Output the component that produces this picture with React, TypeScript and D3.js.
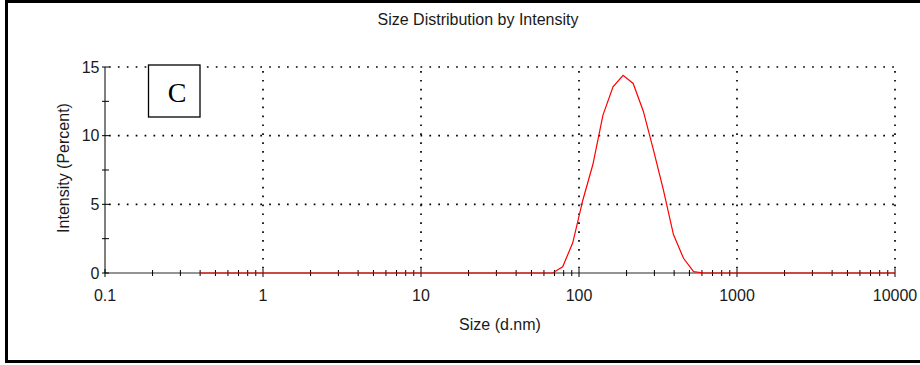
import React from "react";
import * as d3 from "d3";

// Size classes (d.nm) of the distribution
const sizeBins = [
  0.4, 0.4632, 0.5365, 0.6213, 0.7195, 0.8332, 0.9649, 1.117, 1.294, 1.499,
  1.736, 2.01, 2.328, 2.696, 3.122, 3.615, 4.187, 4.849, 5.615, 6.503,
  7.531, 8.721, 10.1, 11.7, 13.54, 15.69, 18.17, 21.04, 24.36, 28.21,
  32.67, 37.84, 43.82, 50.75, 58.77, 68.06, 78.82, 91.28, 105.7, 122.4,
  141.8, 164.2, 190.1, 220.2, 255.0, 295.3, 342.0, 396.1, 458.7, 531.2,
  615.1, 712.4, 825.0, 955.4, 1106, 1281, 1484, 1718, 1990, 2305,
  2669, 3091, 3580, 4145, 4801, 5560, 6439, 7456, 8635, 10000,
];

// Intensity (percent) per size class
const intensity = [
  0, 0, 0, 0, 0, 0, 0, 0, 0, 0,
  0, 0, 0, 0, 0, 0, 0, 0, 0, 0,
  0, 0, 0, 0, 0, 0, 0, 0, 0, 0,
  0, 0, 0, 0, 0, 0, 0.45, 2.2, 5.3, 7.9,
  11.5, 13.55, 14.4, 13.8, 11.8, 9.0, 6.05, 2.8, 1.07, 0.1,
  0, 0, 0, 0, 0, 0, 0, 0, 0, 0,
  0, 0, 0, 0, 0, 0, 0, 0, 0, 0,
];

const xMajorTicks = [0.1, 1, 10, 100, 1000, 10000];
const xTickLabels = ["0.1", "1", "10", "100", "1000", "10000"];
const yMajorTicks = [0, 5, 10, 15];
const yMinorTicks = [2.5, 7.5, 12.5];
const yGridValues = [5, 10, 15];
const xGridValues = [1, 10, 100, 1000, 10000];

const titleText = "Size Distribution by Intensity";
const xTitle = "Size (d.nm)";
const yTitle = "Intensity (Percent)";
const panelLabel = "C";

const FONT = "'Liberation Sans', Arial, sans-serif";
const TEXT = "#1a1a1a";

export default function App() {
  const left = 105;
  const right = 895;
  const top = 67;
  const bottom = 273;

  const x = d3.scaleLog().domain([0.1, 10000]).range([left, right]);
  const y = d3.scaleLinear().domain([0, 15]).range([bottom, top]);

  const xMinor: number[] = [];
  for (let d = -1; d < 4; d++) {
    for (let k = 2; k <= 9; k++) xMinor.push(k * Math.pow(10, d));
  }

  const points = sizeBins.map((s, i) => [x(s), y(intensity[i])] as [number, number]);
  const path = d3.line()(points) || "";

  const dot = { stroke: "#000", strokeWidth: 1.7, strokeDasharray: "1.7 7.2" };

  return (
    <svg
      width={920}
      height={365}
      style={{ position: "absolute", left: 0, top: 0, display: "block", background: "#fff" }}
    >
      <rect x={0} y={0} width={920} height={365} fill="#fff" />
      {/* outer frame */}
      <rect x={6.5} y={1.5} width={920} height={360} fill="none" stroke="#000" strokeWidth={3} />

      <text x={478} y={25} textAnchor="middle" fontFamily={FONT} fontSize={16} fill={TEXT}>
        {titleText}
      </text>

      {/* dotted grid */}
      {yGridValues.map((v) => (
        <line key={"gy" + v} x1={left + 4} x2={right} y1={y(v)} y2={y(v)} {...dot} />
      ))}
      {xGridValues.map((v) => (
        <line key={"gx" + v} x1={x(v)} x2={x(v)} y1={top + 4} y2={bottom} {...dot} />
      ))}

      {/* axes */}
      <line x1={left} x2={right} y1={bottom} y2={bottom} stroke="#707070" strokeWidth={1.5} />
      <line x1={left} x2={left} y1={top} y2={bottom} stroke="#000" strokeWidth={1} />

      {xMinor.map((v) => (
        <line key={"xm" + v} x1={x(v)} x2={x(v)} y1={bottom - 3} y2={bottom + 3} stroke="#000" strokeWidth={1} />
      ))}
      {xMajorTicks.map((v) => (
        <line key={"xM" + v} x1={x(v)} x2={x(v)} y1={bottom - 4} y2={bottom + 4} stroke="#000" strokeWidth={1} />
      ))}
      {[...yMajorTicks, ...yMinorTicks].map((v) => (
        <line key={"yt" + v} x1={left - 3} x2={left + 4} y1={y(v)} y2={y(v)} stroke="#000" strokeWidth={1} />
      ))}

      {xMajorTicks.map((v, i) => (
        <text key={"xl" + v} x={x(v)} y={301} textAnchor="middle" fontFamily={FONT} fontSize={16} fill={TEXT}>
          {xTickLabels[i]}
        </text>
      ))}
      {yMajorTicks.map((v) => (
        <text key={"yl" + v} x={99.5} y={y(v) + 5.8} textAnchor="end" fontFamily={FONT} fontSize={16} fill={TEXT}>
          {v}
        </text>
      ))}

      <text x={500} y={330} textAnchor="middle" fontFamily={FONT} fontSize={16} fill={TEXT}>
        {xTitle}
      </text>
      <text
        transform={`translate(68.5, 168) rotate(-90)`}
        textAnchor="middle"
        fontFamily={FONT}
        fontSize={16}
        fill={TEXT}
      >
        {yTitle}
      </text>

      {/* distribution curve */}
      <path d={path} fill="none" stroke="#ff0000" strokeWidth={1.2} />

      {/* panel label */}
      <rect x={148.5} y={65} width={51.5} height={52} fill="#fff" stroke="#000" strokeWidth={1.3} />
      <text x={177} y={102} textAnchor="middle" fontFamily="'Liberation Serif', 'Times New Roman', serif" fontSize={28} fill="#000">
        {panelLabel}
      </text>
    </svg>
  );
}
